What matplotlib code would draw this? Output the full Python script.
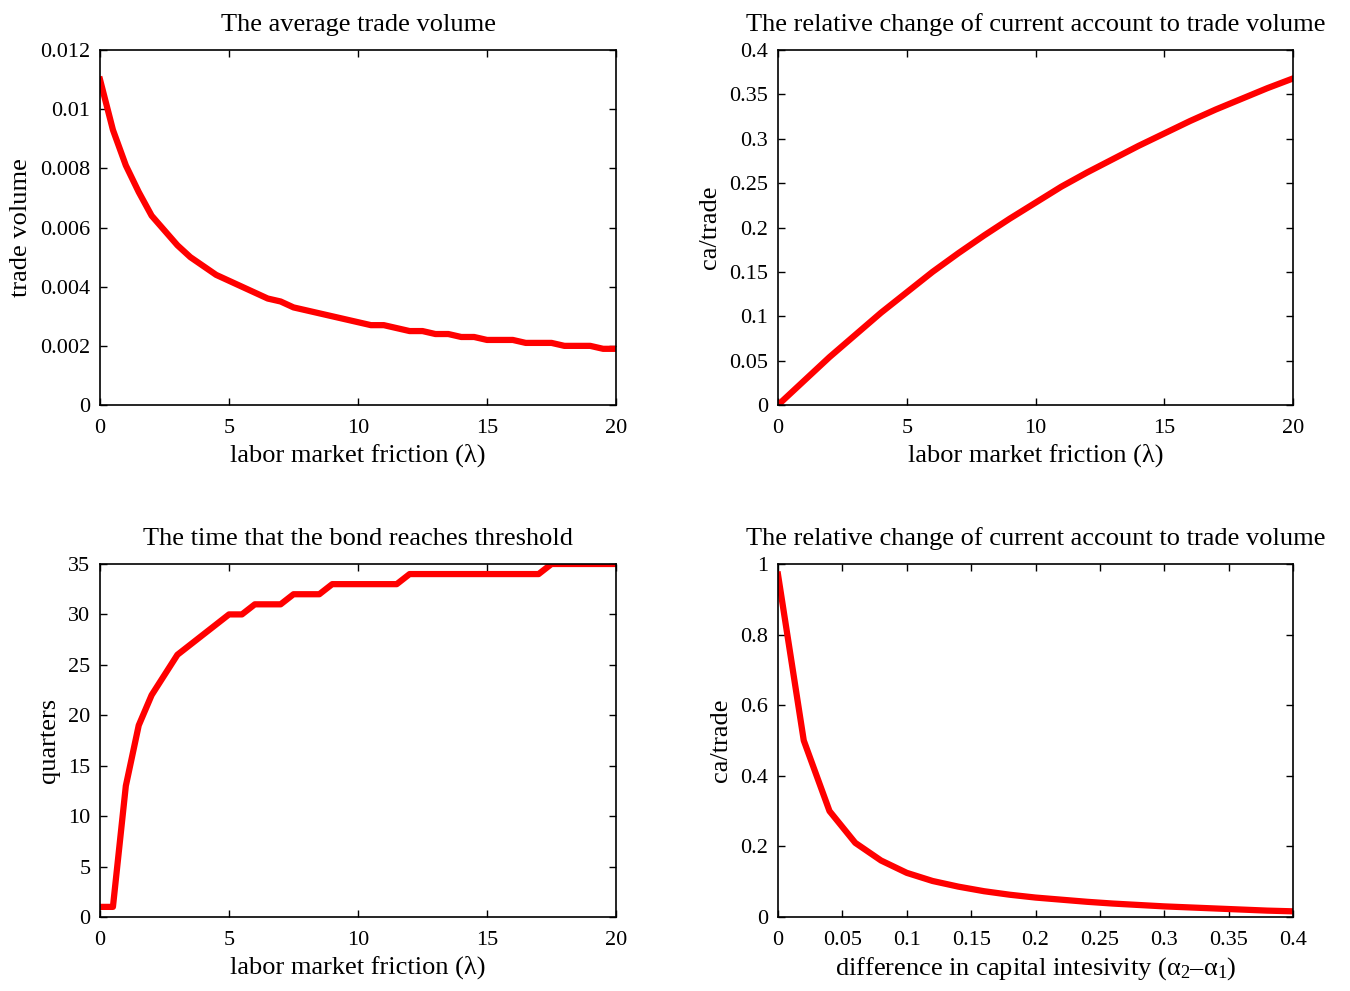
import numpy as np
import matplotlib
matplotlib.use("Agg")
import matplotlib.pyplot as plt
from matplotlib.ticker import FuncFormatter

plt.rcParams["font.family"] = ["Liberation Serif", "DejaVu Serif"]
plt.rcParams["mathtext.fontset"] = "custom"
plt.rcParams["mathtext.rm"] = "Liberation Serif"
plt.rcParams["mathtext.it"] = "Liberation Serif:italic"

# labor market friction grid
lam_half = np.arange(0, 20.5, 0.5)
lam_int = np.arange(0, 21, 1)

# average trade volume
trade_vol = np.array([
    11.0, 9.3, 8.1, 7.2, 6.4, 5.9, 5.4, 5.0, 4.7, 4.4,
    4.2, 4.0, 3.8, 3.6, 3.5, 3.3, 3.2, 3.1, 3.0, 2.9,
    2.8, 2.7, 2.7, 2.6, 2.5, 2.5, 2.4, 2.4, 2.3, 2.3,
    2.2, 2.2, 2.2, 2.1, 2.1, 2.1, 2.0, 2.0, 2.0, 1.9, 1.9]) * 1e-3

# ca / trade vs lambda
ca_trade_lam = [0.000, 0.027, 0.054, 0.079, 0.104, 0.127, 0.150, 0.171, 0.191,
                0.210, 0.228, 0.246, 0.262, 0.277, 0.292, 0.306, 0.320, 0.333,
                0.345, 0.357, 0.368]

# quarters until bond hits threshold
quarters = [1, 1, 13, 19, 22, 24, 26, 27, 28, 29,
            30, 30, 31, 31, 31, 32, 32, 32, 33, 33,
            33, 33, 33, 33, 34, 34, 34, 34, 34, 34,
            34, 34, 34, 34, 34, 35, 35, 35, 35, 35, 35]

# ca / trade vs capital intensity difference
alpha_diff = np.arange(0, 0.41, 0.02)
ca_trade_alpha = [0.97, 0.50, 0.30, 0.21, 0.16, 0.125, 0.102, 0.086, 0.073,
                  0.063, 0.055, 0.049, 0.043, 0.038, 0.034, 0.030, 0.027,
                  0.024, 0.021, 0.018, 0.016]

fig = plt.figure(figsize=(13.5, 9.91), dpi=100)
ax1 = fig.add_axes([0.0741, 0.5913, 0.3822, 0.3582])
ax2 = fig.add_axes([0.5763, 0.5913, 0.3815, 0.3582])
ax3 = fig.add_axes([0.0741, 0.0747, 0.3822, 0.3562])
ax4 = fig.add_axes([0.5763, 0.0747, 0.3815, 0.3562])

fmt = FuncFormatter(lambda v, p: "%g" % round(v, 6))
red = "#ff0000"
lw = 4.5
fs = 19

ax1.plot(lam_half, trade_vol, color=red, lw=lw)
ax1.set_xlim(0, 20)
ax1.set_ylim(0, 0.012)
ax1.set_xticks(np.arange(0, 21, 5))
ax1.set_yticks(np.arange(0, 0.0121, 0.002))
ax1.set_title("The average trade volume", fontsize=fs, pad=14)
ax1.set_ylabel("trade volume", fontsize=fs, labelpad=6)
ax1.set_xlabel("labor market friction (λ)", fontsize=fs, labelpad=4)

ax2.plot(lam_int, ca_trade_lam, color=red, lw=lw)
ax2.set_xlim(0, 20)
ax2.set_ylim(0, 0.4)
ax2.set_xticks(np.arange(0, 21, 5))
ax2.set_yticks(np.arange(0, 0.401, 0.05))
ax2.set_title("The relative change of current account to trade volume", fontsize=fs, pad=14)
ax2.set_ylabel("ca/trade", fontsize=fs, labelpad=6)
ax2.set_xlabel("labor market friction (λ)", fontsize=fs, labelpad=4)

ax3.plot(lam_half, quarters, color=red, lw=lw)
ax3.set_xlim(0, 20)
ax3.set_ylim(0, 35)
ax3.set_xticks(np.arange(0, 21, 5))
ax3.set_yticks(np.arange(0, 36, 5))
ax3.set_title("The time that the bond reaches threshold", fontsize=fs, pad=14)
ax3.set_ylabel("quarters", fontsize=fs, labelpad=6)
ax3.set_xlabel("labor market friction (λ)", fontsize=fs, labelpad=4)

ax4.plot(alpha_diff, ca_trade_alpha, color=red, lw=lw)
ax4.set_xlim(0, 0.4)
ax4.set_ylim(0, 1)
ax4.set_xticks(np.arange(0, 0.401, 0.05))
ax4.set_yticks(np.arange(0, 1.01, 0.2))
ax4.set_title("The relative change of current account to trade volume", fontsize=fs, pad=14)
ax4.set_ylabel("ca/trade", fontsize=fs, labelpad=6)
ax4.set_xlabel(r"difference in capital intesivity ($\mathrm{\alpha_2}$–$\mathrm{\alpha_1}$)",
               fontsize=fs, labelpad=4)

for ax in (ax1, ax2, ax3, ax4):
    ax.xaxis.set_major_formatter(fmt)
    ax.yaxis.set_major_formatter(fmt)
    ax.tick_params(direction="in", length=5, width=1, top=True, right=True,
                   labelsize=16, pad=7)
    ax.tick_params(axis="x", pad=10)
    for s in ax.spines.values():
        s.set_linewidth(1.2)

fig.savefig("out.png", dpi=100)
